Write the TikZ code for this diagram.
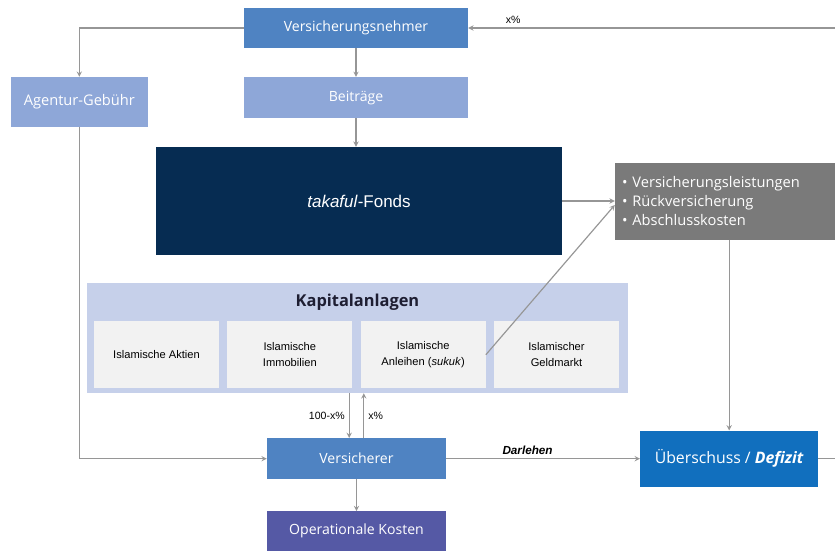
\documentclass[tikz,border=0pt]{standalone}
\usepackage{fontspec}
\setmainfont{Open Sans}
\newfontfamily\smallfont{Liberation Sans}
\usetikzlibrary{shapes.geometric, arrows}
\definecolor{blueMid}{RGB}{79,131,194}
\definecolor{blueLight}{RGB}{142,167,216}
\definecolor{navyFonds}{RGB}{6,44,82}
\definecolor{greyBox}{RGB}{122,122,122}
\definecolor{kapBlue}{RGB}{198,208,234}
\definecolor{subGrey}{RGB}{242,242,242}
\definecolor{opViolet}{RGB}{85,89,165}
\definecolor{blueDeep}{RGB}{17,111,190}
\definecolor{lineGrey}{RGB}{150,150,150}
\definecolor{titleDark}{RGB}{30,30,50}
\tikzstyle{recNode} = [rectangle, minimum width=6.72cm, minimum height=1.2cm, text centered, inner sep=0pt, text=white, font=\fontsize{12}{14}\selectfont]
\tikzstyle{recNodeB} = [recNode, fill=blueMid]
\tikzstyle{recNodeL} = [recNode, fill=blueLight]
\tikzstyle{recNodeN} = [recNode, fill=navyFonds, font=\smallfont\fontsize{14.5}{17}\selectfont]
\tikzstyle{recNodeG} = [recNode, fill=greyBox, align=left, text width=6.18cm, inner xsep=0.21cm, font=\fontsize{12.5}{15.8}\selectfont]
\tikzstyle{recNodeK} = [recNode, fill=kapBlue]
\tikzstyle{subNode} = [rectangle, minimum width=3.75cm, minimum height=2.01cm, inner sep=0pt, fill=subGrey, align=center, text=black, font=\smallfont\fontsize{9.5}{13.6}\selectfont]
\tikzstyle{eNode} = [text=black, font=\smallfont\fontsize{9}{10}\selectfont]
\tikzstyle{arrow} = [line width=1pt,->,>=stealth,draw=lineGrey]

\begin{document}
\begin{tikzpicture}[node distance=2cm]
        \useasboundingbox (-10.68,0.84) rectangle (14.37,-15.66);
        \node (vn) [recNodeB] {Versicherungsnehmer};
        \node (bei) [recNodeL, below of=vn, yshift=-0.09cm, minimum height=1.23cm] {Beiträge};
        \node (agent) [recNodeL, left of=bei, xshift=-6.3cm, yshift=-0.13cm, minimum width=4.11cm, minimum height=1.5cm, font=\fontsize{12.5}{14}\selectfont] {Agentur-Gebühr};
        \node (fonds) [recNodeN, below of=bei, xshift=0.09cm, yshift=-1.1cm, minimum width=12.18cm, minimum height=3.24cm] {\textit{takaful}-Fonds};
        \node (leist) [recNodeG, right of=fonds, xshift=8.98cm, minimum width=6.6cm, minimum height=2.31cm] {\textbullet\ Versicherungsleistungen\\ \textbullet\ Rückversicherung\\ \textbullet\ Abschlusskosten};
        \node (kap) [recNodeK, below of=fonds, xshift=-0.045cm, yshift=-2.11cm, minimum width=16.23cm, minimum height=3.3cm] {};
        \node (kaptitle) [above of=kap, yshift=-0.92cm, text=titleDark, font=\bfseries\fontsize{14}{16}\selectfont] {Kapitalanlagen};
        \node (aktien) [subNode, left of=kap, xshift=-4.03cm, yshift=-0.5cm] {Islamische Aktien};
        \node (immo) [subNode, right of=aktien, xshift=2cm] {Islamische\\Immobilien};
        \node (anleihen) [subNode, right of=immo, xshift=2cm] {Islamische\\Anleihen (\textit{sukuk})};
        \node (geld) [subNode, right of=anleihen, xshift=2cm] {Islamischer\\Geldmarkt};
        \node (vers) [recNodeB, below of=kap, xshift=-0.03cm, yshift=-1.62cm, minimum width=5.37cm, minimum height=1.23cm] {Versicherer};
        \node (opk) [recNode, fill=opViolet, below of=vers, yshift=-0.18cm, minimum width=5.37cm, minimum height=1.2cm] {Operationale Kosten};
        \node (uber) [recNode, fill=blueDeep, right of=vers, xshift=9.18cm, minimum width=5.34cm, minimum height=1.68cm, font=\fontsize{13.5}{15}\selectfont] {Überschuss / \textbf{\textit{Defizit}}};
        \coordinate (rim) at ([xshift=3.4cm]uber.center);
        
        \draw [arrow] (vn) -| (agent);
        \draw [arrow] (vn) -- (bei);
        \draw [arrow] (bei) -- (bei.south |- fonds.north);
        \draw [arrow] (agent) |- (vers);
        \draw [arrow] (fonds) -- (leist);
        \draw [arrow] (anleihen.east) -- ([yshift=-0.12cm]leist.west);
        \draw [arrow] (uber.north |- leist.south) -- (uber);
        \draw [arrow] (vers) -- node[pos=0.42, above, text=black, font=\smallfont\bfseries\itshape\fontsize{10}{11}\selectfont] {Darlehen} (uber);
        \draw [arrow] (uber) -- (rim) |- node[pos=0.94, above, eNode] {x\%} (vn);
        \draw [arrow] ([xshift=-0.22cm]vers.north |- kap.south) -- node[left, eNode] {100-x\%} ([xshift=-0.22cm]vers.north);
        \draw [arrow] ([xshift=0.22cm]vers.north) -- node[right, eNode] {x\%} ([xshift=0.22cm]vers.north |- kap.south);
        \draw [arrow] (vers) -- (opk);
        
    \end{tikzpicture}
\end{document}
